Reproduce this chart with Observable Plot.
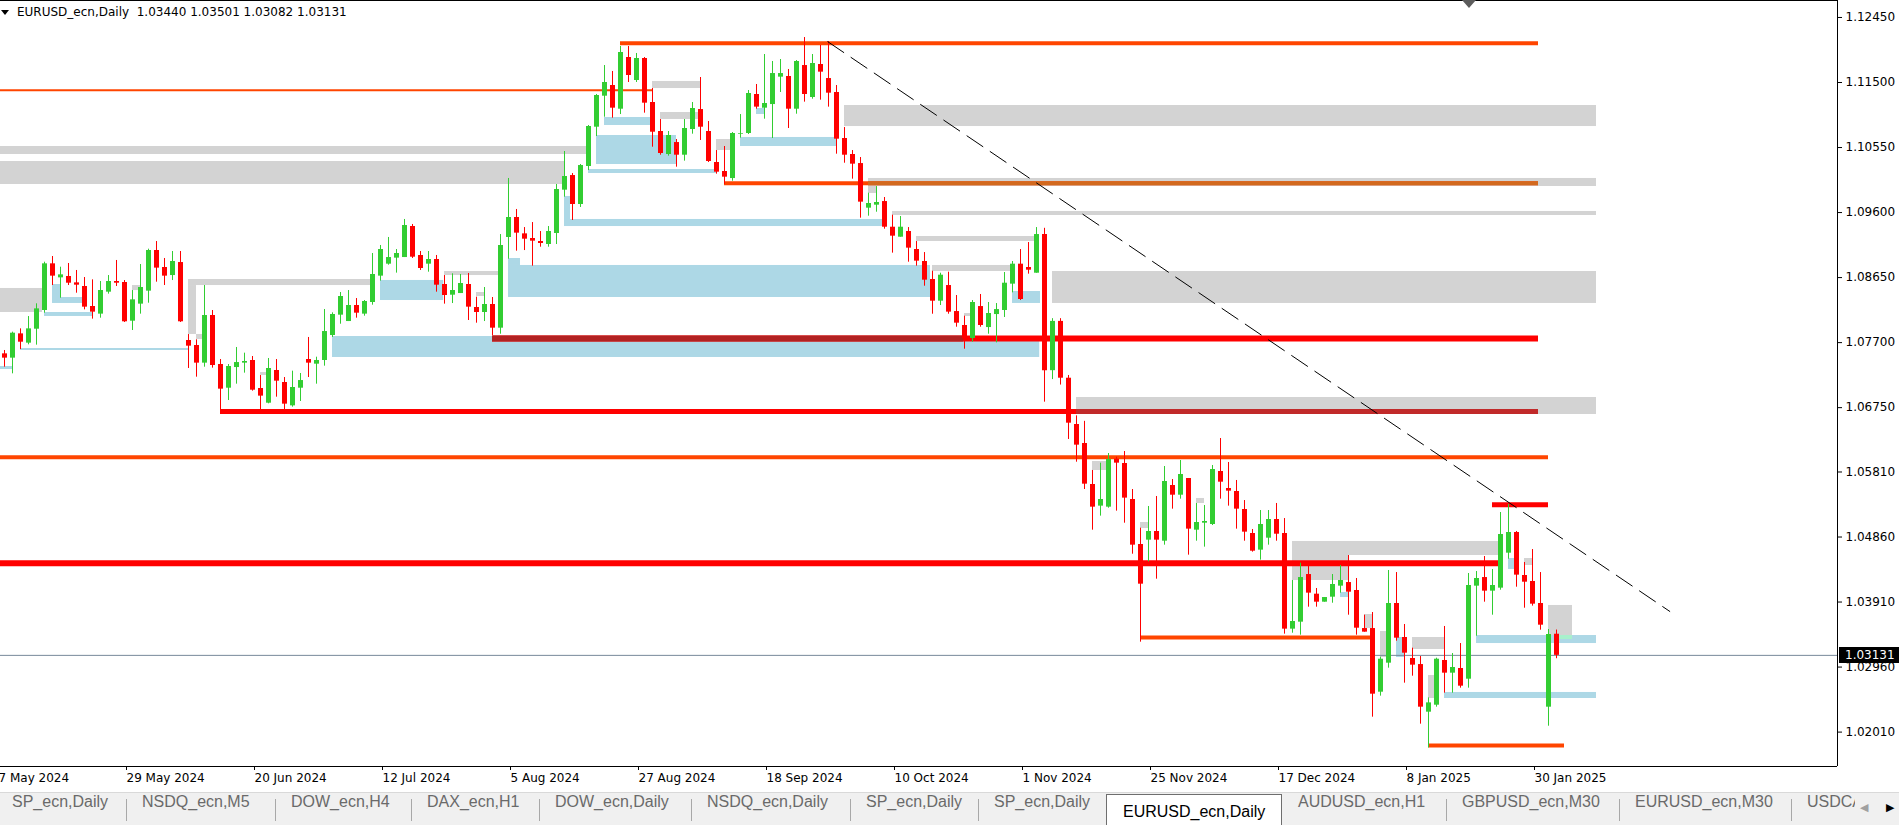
<!DOCTYPE html>
<html>
<head>
<meta charset="utf-8">
<script src="https://cdn.jsdelivr.net/npm/d3@7"></script>
<script src="https://cdn.jsdelivr.net/npm/@observablehq/plot@0.6"></script>
<style>
html,body{margin:0;padding:0;background:#fff;width:1899px;height:825px;overflow:hidden;}
#wrap{position:relative;width:1899px;height:825px;overflow:hidden;}
#chart{position:absolute;left:0;top:0;}
#title{position:absolute;left:17px;top:5px;font:12px "DejaVu Sans",sans-serif;line-height:15px;color:#000;white-space:pre;}
#deco{position:absolute;left:0;top:0;pointer-events:none;}
#pricebox{position:absolute;left:1839px;width:60px;height:16px;background:#000;color:#fff;font:12px "DejaVu Sans",sans-serif;line-height:16px;padding-left:6px;box-sizing:border-box;}
#tabs{position:absolute;left:0;top:792px;width:1899px;height:33px;background:#f0f0f0;border-top:1px solid #d9d9d9;box-sizing:border-box;}
.tab{position:absolute;top:0;height:32px;line-height:36px;font:16px "Liberation Sans",sans-serif;color:#6a6a6a;white-space:nowrap;overflow:hidden;box-sizing:border-box;}
.sep{position:absolute;top:6px;width:1px;height:22px;background:#a8a8a8;}
.tab.active{background:#fff;color:#000;border:1px solid #6e6e6e;border-bottom:none;top:1px;height:32px;line-height:34px;}
.arr{position:absolute;top:8px;font:11px "DejaVu Sans",sans-serif;}
</style>
</head>
<body>
<div id="wrap">
  <div id="chart"></div>
  <svg id="deco" width="1899" height="30"><polygon points="1462,0 1476,0 1469,8" fill="#5c5c5c"/><polygon points="1,10 9,10 5,15" fill="#000"/></svg>
  <div id="title"></div>
  <div id="pricebox"></div>
  <div id="tabs"></div>
</div>
<script>
// ---------------- data ----------------
const symbol = "EURUSD_ecn,Daily";

// daily candles, index 0 = 8 May 2024 ... index 194 = 4 Feb 2025
const candleOpen = [1.07536,1.07473,1.07828,1.07692,1.07896,1.08169,1.08851,1.08646,1.08666,1.08573,1.08520,1.08228,1.08116,1.08437,1.08593,1.08578,1.08013,1.08262,1.08452,1.09046,1.08797,1.08680,1.08870,1.07731,1.07658,1.07400,1.08096,1.07380,1.07034,1.07336,1.07400,1.07439,1.07030,1.06815,1.07293,1.07117,1.06776,1.07034,1.07453,1.07385,1.07439,1.07804,1.08101,1.08008,1.08242,1.08116,1.08286,1.08671,1.08846,1.08934,1.08943,1.09396,1.08973,1.08846,1.08914,1.08549,1.08393,1.08417,1.08549,1.08213,1.08140,1.08257,1.07911,1.09236,1.09528,1.09289,1.09221,1.09177,1.09133,1.09294,1.09927,1.10141,1.09718,1.10273,1.10847,1.11300,1.11456,1.11110,1.11865,1.11529,1.11851,1.11208,1.10784,1.10448,1.10623,1.10438,1.10813,1.11105,1.10784,1.10331,1.10200,1.10097,1.10745,1.10755,1.11325,1.11125,1.11178,1.11578,1.11588,1.11110,1.11748,1.11281,1.11763,1.11558,1.11354,1.10682,1.10448,1.10316,1.09664,1.09708,1.09761,1.09386,1.09240,1.09323,1.09060,1.08885,1.08622,1.08305,1.08534,1.08154,1.07950,1.07760,1.08227,1.07920,1.08110,1.08169,1.08554,1.08846,1.08797,1.08714,1.09280,1.07290,1.08010,1.07180,1.06504,1.06226,1.05627,1.05311,1.05296,1.05997,1.05934,1.05408,1.04751,1.04814,1.04941,1.04799,1.05613,1.05471,1.05715,1.04960,1.05062,1.05043,1.05817,1.05569,1.05525,1.05262,1.04911,1.04668,1.04843,1.05116,1.04911,1.03514,1.03616,1.04312,1.04025,1.03908,1.03981,1.04142,1.04195,1.04079,1.03523,1.03523,1.02593,1.03017,1.03889,1.03392,1.03085,1.02997,1.02301,1.02403,1.03056,1.02871,1.02939,1.02783,1.04142,1.04268,1.04069,1.04113,1.04624,1.04926,1.04298,1.04210,1.03889,1.02374,1.03440];
const candleHigh = [1.07585,1.07853,1.07901,1.08081,1.08267,1.08875,1.08958,1.08802,1.08856,1.08754,1.08651,1.08617,1.08593,1.08680,1.08900,1.08607,1.08461,1.08841,1.09065,1.09177,1.08929,1.09031,1.09031,1.07818,1.07741,1.08534,1.08169,1.07453,1.07380,1.07629,1.07546,1.07497,1.07219,1.07468,1.07453,1.07190,1.07283,1.07249,1.07775,1.07487,1.08184,1.08135,1.08432,1.08461,1.08344,1.08315,1.09002,1.09119,1.09236,1.09060,1.09499,1.09426,1.09031,1.09031,1.08973,1.08680,1.08705,1.08695,1.08710,1.08364,1.08505,1.08359,1.09279,1.10098,1.09645,1.09381,1.09454,1.09323,1.09396,1.10010,1.10492,1.10170,1.10302,1.10872,1.11325,1.11748,1.11661,1.12026,1.12026,1.11924,1.11865,1.11412,1.10959,1.10784,1.10667,1.10959,1.11208,1.11573,1.10930,1.10506,1.10565,1.10769,1.11032,1.11383,1.11471,1.11909,1.11807,1.11836,1.11690,1.11821,1.12157,1.11909,1.12041,1.12099,1.11456,1.10842,1.10506,1.10404,1.09883,1.09980,1.09820,1.09562,1.09542,1.09381,1.09177,1.09016,1.08743,1.08714,1.08729,1.08388,1.08086,1.08315,1.08403,1.08286,1.08271,1.08724,1.08885,1.09060,1.09162,1.09381,1.09370,1.08050,1.08050,1.07220,1.06630,1.06550,1.05832,1.05939,1.06080,1.06026,1.06109,1.05554,1.04989,1.05306,1.05452,1.05890,1.05700,1.05978,1.05715,1.05350,1.05320,1.05905,1.06299,1.05949,1.05686,1.05393,1.04970,1.05247,1.05247,1.05350,1.05130,1.04225,1.04478,1.04478,1.04108,1.03976,1.04312,1.04444,1.04590,1.04254,1.03718,1.03757,1.03105,1.04371,1.04341,1.03582,1.03236,1.03114,1.02510,1.03090,1.03553,1.03158,1.03304,1.04327,1.04356,1.04575,1.04385,1.05218,1.05335,1.04941,1.04488,1.04677,1.04341,1.03509,1.03501];
const candleLow = [1.07341,1.07244,1.07599,1.07668,1.07663,1.08130,1.08534,1.08349,1.08534,1.08422,1.08179,1.08043,1.08057,1.08408,1.08520,1.07994,1.07877,1.08116,1.08276,1.08583,1.08534,1.08607,1.07994,1.07322,1.07195,1.07341,1.07327,1.06708,1.06854,1.07093,1.07254,1.06991,1.06708,1.06806,1.06903,1.06708,1.06757,1.06840,1.07190,1.07093,1.07356,1.07775,1.07969,1.08008,1.08057,1.08086,1.08247,1.08598,1.08831,1.08715,1.08943,1.08929,1.08754,1.08729,1.08437,1.08262,1.08271,1.08417,1.08023,1.07984,1.08008,1.07804,1.07823,1.08919,1.09036,1.09045,1.08817,1.09094,1.09094,1.09133,1.09825,1.09484,1.09674,1.10214,1.10711,1.10993,1.10979,1.11032,1.11500,1.11500,1.11052,1.10555,1.10438,1.10424,1.10263,1.10351,1.10745,1.10653,1.10331,1.10161,1.10010,1.10058,1.10687,1.10740,1.11110,1.10964,1.10682,1.11354,1.10828,1.11037,1.11213,1.11256,1.11242,1.11140,1.10453,1.10321,1.10088,1.09518,1.09547,1.09605,1.09357,1.09007,1.09240,1.08875,1.08817,1.08524,1.08115,1.08242,1.08115,1.07925,1.07604,1.07706,1.07925,1.07823,1.07696,1.08067,1.08427,1.08315,1.08700,1.08714,1.06830,1.07160,1.07080,1.06285,1.05953,1.05554,1.04960,1.05165,1.05281,1.05238,1.05062,1.04609,1.03324,1.04497,1.04244,1.04741,1.05267,1.05413,1.04595,1.04799,1.04712,1.05028,1.05413,1.05311,1.04975,1.04799,1.04639,1.04522,1.04741,1.04799,1.03441,1.03455,1.03426,1.03835,1.03835,1.03908,1.03893,1.04040,1.03718,1.03426,1.03470,1.02228,1.02535,1.02944,1.03338,1.02725,1.02827,1.02126,1.01780,1.02374,1.02579,1.02579,1.02652,1.02652,1.03411,1.03908,1.03718,1.04083,1.04536,1.04127,1.03820,1.03850,1.03499,1.02096,1.03082];
const candleClose = [1.07473,1.07838,1.07706,1.07901,1.08193,1.08851,1.08671,1.08690,1.08568,1.08539,1.08218,1.08145,1.08461,1.08593,1.08568,1.08004,1.08325,1.08505,1.09046,1.08788,1.08671,1.08885,1.08004,1.07648,1.07400,1.08096,1.07366,1.07020,1.07351,1.07409,1.07424,1.07005,1.06918,1.07322,1.07137,1.06801,1.07044,1.07146,1.07400,1.07439,1.07862,1.08111,1.08374,1.08242,1.08130,1.08301,1.08695,1.09060,1.08943,1.09002,1.09411,1.08948,1.08783,1.08914,1.08539,1.08388,1.08461,1.08564,1.08218,1.08140,1.08257,1.07911,1.09119,1.09528,1.09299,1.09211,1.09182,1.09148,1.09323,1.09937,1.10127,1.09718,1.10287,1.10857,1.11310,1.11500,1.11125,1.11938,1.11602,1.11851,1.11198,1.10774,1.10463,1.10726,1.10438,1.10828,1.11120,1.10847,1.10346,1.10190,1.10117,1.10755,1.10755,1.11339,1.11140,1.11193,1.11631,1.11631,1.11110,1.11807,1.11325,1.11778,1.11651,1.11344,1.10672,1.10438,1.10307,1.09752,1.09732,1.09747,1.09386,1.09255,1.09386,1.09080,1.08890,1.08612,1.08305,1.08685,1.08145,1.07984,1.07755,1.08286,1.07950,1.08125,1.08183,1.08568,1.08846,1.08330,1.08758,1.09279,1.07290,1.08010,1.07180,1.06523,1.06202,1.05632,1.05296,1.05408,1.05992,1.05939,1.05428,1.04741,1.04171,1.04941,1.04814,1.05671,1.05471,1.05773,1.04975,1.05072,1.05087,1.05846,1.05661,1.05530,1.05267,1.04931,1.04653,1.05043,1.05116,1.04901,1.03514,1.03626,1.04268,1.04040,1.03908,1.03976,1.04166,1.04225,1.04054,1.03528,1.03470,1.02564,1.03075,1.03889,1.03382,1.03163,1.02988,1.02374,1.02437,1.03075,1.02871,1.02954,1.02681,1.04152,1.04254,1.04069,1.04152,1.04897,1.04926,1.04303,1.04200,1.03879,1.03572,1.03436,1.03131];

// time axis labels (bar index of each label)
const dateTickIndex = [-1, 15, 31, 47, 63, 79, 95, 111, 127, 143, 159, 175, 191];
const dateTickLabels = ["7 May 2024","29 May 2024","20 Jun 2024","12 Jul 2024","5 Aug 2024","27 Aug 2024","18 Sep 2024","10 Oct 2024","1 Nov 2024","25 Nov 2024","17 Dec 2024","8 Jan 2025","30 Jan 2025"];

// price axis labels
const priceTicks = [1.1245, 1.115, 1.1055, 1.096, 1.0865, 1.077, 1.0675, 1.0581, 1.0486, 1.0391, 1.0296, 1.0201];
const priceTickLabels = ["1.12450","1.11500","1.10550","1.09600","1.08650","1.07700","1.06750","1.05810","1.04860","1.03910","1.02960","1.02010"];

// zones: [start bar, end bar, upper price, lower price]
const greyZones = [
  [-1,73,1.10565,1.10448],[-1,70,1.10346,1.10010],[105,199,1.11164,1.10857],[81,87,1.11515,1.11412],
  [82,87,1.11062,1.10960],[89,90.75,1.10667,1.10507],[108,199,1.10098,1.09981],[108,109,1.09981,1.09879],
  [111,199,1.09616,1.09557],[114,129,1.09250,1.09177],[116,125.75,1.08827,1.08739],[131,199,1.08739,1.08272],
  [120,120.75,1.08125,1.08082],[-1,4.75,1.08491,1.08140],[16,17,1.08534,1.08461],[23,45.75,1.08622,1.08534],
  [23,24,1.08534,1.07819],[24,24.75,1.07819,1.07746],[32,33,1.07263,1.07220],[55,62,1.08739,1.08680],
  [59,60,1.08432,1.08374],[134,199,1.06898,1.06650],[161,186.75,1.04795,1.04590],[161,168,1.04590,1.04225],
  [193,196,1.03860,1.03392],[190,191,1.04546,1.04444],[170,171,1.03728,1.03524],[172,173,1.03480,1.03100],
  [176,180,1.03392,1.03217],[178,179,1.02837,1.02501],[142,143,1.05072,1.04984],[136,137.75,1.05963,1.05832],
  [149,150,1.05423,1.05350]
];
const blueZones = [
  [63,115.75,1.08827,1.08359],[63,64.5,1.08929,1.08827],[41,129.4,1.07789,1.07483],[184,199,1.03421,1.03304],
  [180,199,1.02589,1.02501],[6,7,1.08549,1.08272],[7,9.75,1.08359,1.08272],[5,11,1.08140,1.08082],
  [-1,1,1.07351,1.07307],[2,23,1.07614,1.07585],[47,54.9,1.08608,1.08315],[70,70.75,1.09835,1.09411],
  [70,109.9,1.09499,1.09396],[73,89,1.10229,1.10171],[74,84,1.10726,1.10302],[75,80.75,1.10989,1.10872],
  [92,104,1.10697,1.10565],[94,95,1.11120,1.11033],[126,129.5,1.08447,1.08272],[167,168,1.04050,1.03976],
  [174,175,1.03392,1.03100],[188,189,1.04546,1.04386]
];
const mintZones = [[194,196,1.03421,1.03363]];

// horizontal levels: [start bar, end bar, price]
const orangeLevels = [[77,191.75,1.12074],[90,191.75,1.10029],[-1,193,1.06026],[142,170.75,1.03392],[178,195,1.01814]];
const orangeThinLevels = [[-1,81,1.11388]];
const redWideLevels = [[61,191.75,1.07760],[-1,186.75,1.04476]];
const redLevels = [[27,191.75,1.06694],[186,193,1.05331]];
const darkRedOverlaps = [[61,119.9,1.07760],[134,191.75,1.06694]];
const brownOverlaps = [[108,191.75,1.10029]];

// dashed trend line: [bar, price]
const trendStart = [102.875, 1.12099];
const trendEnd = [208.2, 1.03770];

const tabNames = ["SP_ecn,Daily","NSDQ_ecn,M5","DOW_ecn,H4","DAX_ecn,H1","DOW_ecn,Daily","NSDQ_ecn,Daily","SP_ecn,Daily","SP_ecn,Daily","EURUSD_ecn,Daily","AUDUSD_ecn,H1","GBPUSD_ecn,M30","EURUSD_ecn,M30","USDCAD_ecn,H1"];
const activeTab = 8;

// ---------------- layout ----------------
const W = 1899, H = 793;
const xDomain = [-0.5, 229.125];
const yDomain = [1.015075, 1.12698];
const GREEN = "#32cd32", RED = "#ff0000";

const candles = candleOpen.map((o, i) => ({i, o, h: candleHigh[i], l: candleLow[i], c: candleClose[i]}));
const col = d => d.c >= d.o ? GREEN : RED;
const last = candles[candles.length - 1];
const tickLabel = new Map(dateTickIndex.map((v, k) => [v, dateTickLabels[k]]));
const priceLabel = new Map(priceTicks.map((v, k) => [v, priceTickLabels[k]]));

const zone = (data, fill) => Plot.rect(data, {x1: d => d[0], x2: d => d[1], y1: d => d[2], y2: d => d[3], fill});
const level = (data, stroke, strokeWidth) => Plot.ruleY(data, {y: d => d[2], x1: d => d[0], x2: d => d[1], stroke, strokeWidth});

const chart = Plot.plot({
  width: W, height: H,
  marginTop: 0, marginRight: 62, marginBottom: 27, marginLeft: 0,
  style: {fontFamily: '"DejaVu Sans", sans-serif', fontSize: "12px", color: "#000", background: "transparent"},
  x: {type: "linear", domain: xDomain},
  y: {type: "linear", domain: yDomain},
  color: {type: "identity"},
  marks: [
    zone(greyZones, "#d3d3d3"),
    zone(blueZones, "#add8e6"),
    zone(mintZones, "#a8f0cc"),
    level(orangeThinLevels, "#ff4500", 2),
    level(orangeLevels, "#ff4500", 4),
    level(brownOverlaps, "#d2691e", 4),
    level(redWideLevels, "#ff0000", 6),
    level(redLevels, "#ff0000", 5),
    Plot.ruleY([darkRedOverlaps[0]], {y: d => d[2], x1: d => d[0], x2: d => d[1], stroke: "#b22222", strokeWidth: 6}),
    Plot.ruleY([darkRedOverlaps[1]], {y: d => d[2], x1: d => d[0], x2: d => d[1], stroke: "#c12a2a", strokeWidth: 5}),
    Plot.ruleY([last.c], {stroke: "#778899", strokeWidth: 1}),
    Plot.ruleX(candles, {x: "i", y1: "l", y2: "h", stroke: col, strokeWidth: 1}),
    Plot.ruleX(candles, {x: "i", y1: "o", y2: "c", stroke: col, strokeWidth: 5}),
    Plot.link([[trendStart, trendEnd]], {x1: d => d[0][0], y1: d => d[0][1], x2: d => d[1][0], y2: d => d[1][1], stroke: "#000", strokeWidth: 1, strokeDasharray: "20,8"}),
    Plot.axisX({ticks: dateTickIndex, tickFormat: d => tickLabel.get(d), tickSize: 4, tickPadding: 3, textAnchor: "start", dx: 2, label: null, fill: "#000"}),
    Plot.axisY({anchor: "right", ticks: priceTicks, tickFormat: d => priceLabel.get(d), tickSize: 4, tickPadding: 4, textAnchor: "start", label: null, fill: "#000"}),
    Plot.ruleX([xDomain[1]], {stroke: "#000"}),
    Plot.ruleY([yDomain[0]], {stroke: "#000"}),
    Plot.ruleY([yDomain[1]], {stroke: "#000"})
  ]
});
document.getElementById("chart").appendChild(chart);

// title with last bar OHLC
const f5 = v => v.toFixed(5);
document.getElementById("title").textContent = `${symbol}  ${f5(last.o)} ${f5(last.h)} ${f5(last.l)} ${f5(last.c)}`;

// current price box
let yPix;
try { yPix = chart.scale("y").apply(last.c); } catch (e) { yPix = d3.scaleLinear().domain(yDomain).range([766, 0])(last.c); }
const pb = document.getElementById("pricebox");
pb.style.top = (yPix - 8) + "px";
pb.textContent = f5(last.c);

// tab bar
const tabEdges = [-4, 126, 275, 411, 539, 691, 850, 978, 1106, 1282, 1446, 1619, 1791, 1855];
const tabs = document.getElementById("tabs");
tabNames.forEach((name, k) => {
  const t = document.createElement("div");
  t.className = "tab" + (k === activeTab ? " active" : "");
  t.style.left = tabEdges[k] + "px";
  t.style.width = (tabEdges[k + 1] - tabEdges[k]) + "px";
  t.style.paddingLeft = "16px";
  t.textContent = name;
  tabs.appendChild(t);
  if (k > 0 && k !== activeTab && k !== activeTab + 1) {
    const s = document.createElement("div");
    s.className = "sep";
    s.style.left = tabEdges[k] + "px";
    tabs.appendChild(s);
  }
});
const a1 = document.createElement("div"); a1.className = "arr"; a1.style.left = "1860px"; a1.style.color = "#a0a0a0"; a1.textContent = "◀"; tabs.appendChild(a1);
const a2 = document.createElement("div"); a2.className = "arr"; a2.style.left = "1886px"; a2.style.color = "#000"; a2.textContent = "▶"; tabs.appendChild(a2);
</script>
</body>
</html>
